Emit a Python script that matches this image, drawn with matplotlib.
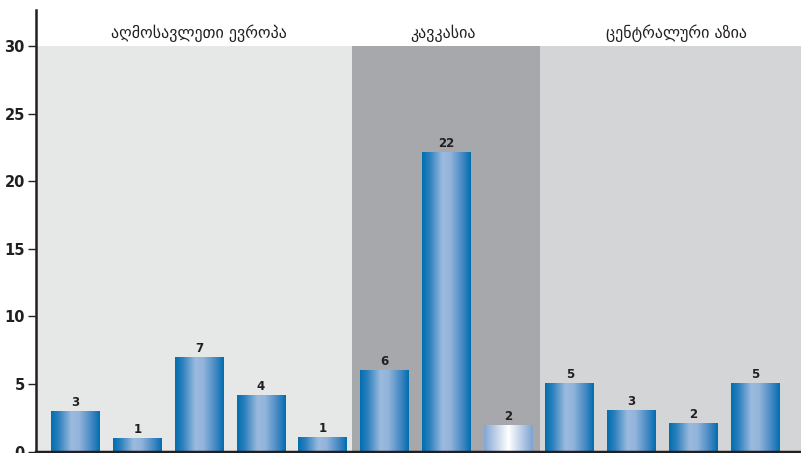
import matplotlib
matplotlib.use('Agg')
import matplotlib.pyplot as plt
from matplotlib.colors import LinearSegmentedColormap
import numpy as np

# data
values = [3, 1, 7, 4.15, 1.1, 6, 22.2, 1.95, 5.05, 3.1, 2.1, 5.05]
labels = ['3', '1', '7', '4', '1', '6', '22', '2', '5', '3', '2', '5']
white_bar = [False] * 7 + [True] + [False] * 4
regions = ['აღმოსავლეთი ევროპა', 'კავკასია', 'ცენტრალური აზია']
region_bounds = [(-0.64, 4.47), (4.47, 7.52), (7.52, 11.74)]
region_colors = ['#e6e7e7', '#a7a8ab', '#d4d5d7']
region_label_x = [2.0, 5.95, 9.73]

dark = '#231f20'
blue_cmap = LinearSegmentedColormap.from_list('blue', [
    (0.0, '#006eae'), (0.15, '#2a7fbd'), (0.42, '#9bbade'), (0.58, '#93b4db'),
    (0.85, '#3d85c1'), (1.0, '#006eae')])
white_cmap = LinearSegmentedColormap.from_list('white', [
    (0.0, '#82a6d4'), (0.5, '#ffffff'), (1.0, '#7ea2d2')])

fig = plt.figure(figsize=(8.01, 4.53), dpi=100)
ax = fig.add_axes([36 / 801, 1.5 / 453, 1 - 36 / 801, 1 - 11.5 / 453])

for (x0, x1), c in zip(region_bounds, region_colors):
    ax.fill_between([x0, x1], 0, 30, color=c, lw=0, zorder=0)

x = np.arange(len(values))
bars = ax.bar(x, values, width=0.79, color='none', zorder=2)
grad = np.linspace(0, 1, 256).reshape(1, -1)
for b, is_white in zip(bars, white_bar):
    x0, y0 = b.get_x(), b.get_y()
    im = ax.imshow(grad, cmap=white_cmap if is_white else blue_cmap, aspect='auto',
                   extent=[x0, x0 + b.get_width(), y0, y0 + b.get_height()],
                   zorder=2, interpolation='bilinear')
    im.set_clip_path(b)

for xi, v, lab in zip(x, values, labels):
    ax.text(xi, v + 0.15, lab, ha='center', va='bottom', fontsize=8.5,
            fontweight='bold', color=dark, zorder=3)

for lx, name in zip(region_label_x, regions):
    ax.text(lx, 30.95, name, ha='center', va='center', fontsize=11.5,
            family='DejaVu Sans', color=dark)

ax.set_xlim(-0.64, 11.74)
ax.set_ylim(0, 32.7)
ax.set_yticks([0, 5, 10, 15, 20, 25, 30])
ax.set_xticks([])
ax.tick_params(axis='y', length=6, width=1, color=dark, labelsize=10.5,
               labelcolor=dark, pad=2)
for t in ax.get_yticklabels():
    t.set_fontweight('bold')
ax.set_facecolor('white')
for s in ['top', 'right']:
    ax.spines[s].set_visible(False)
ax.spines['left'].set_linewidth(1.8)
ax.spines['left'].set_color(dark)
ax.spines['bottom'].set_linewidth(2.5)
ax.spines['bottom'].set_color(dark)
ax.spines['bottom'].set_zorder(4)

plt.savefig('out.png', dpi=100)
